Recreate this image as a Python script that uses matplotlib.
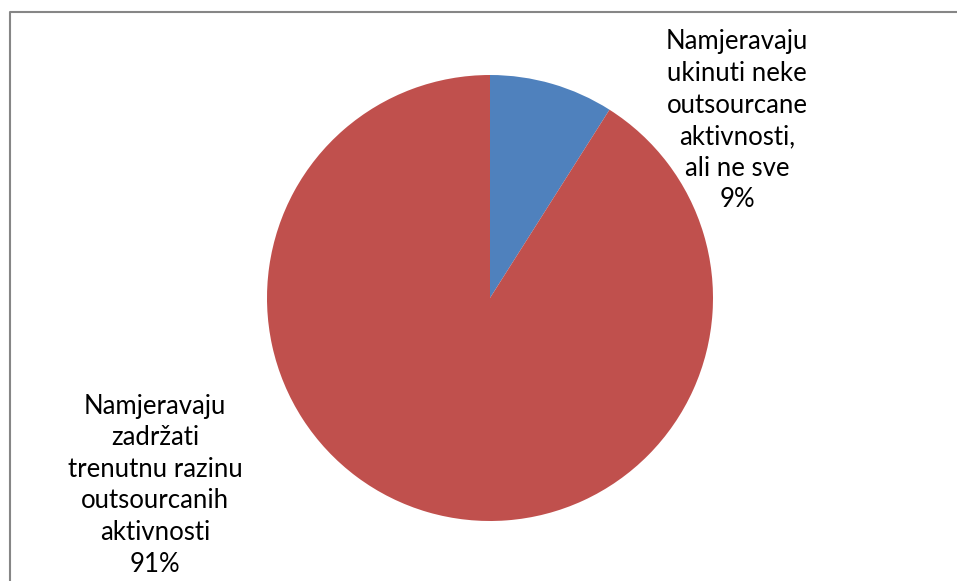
import matplotlib.pyplot as plt
from matplotlib.lines import Line2D

labels = ['Namjeravaju\nukinuti neke\noutsourcane\naktivnosti,\nali ne sve\n9%',
          'Namjeravaju\nzadržati\ntrenutnu razinu\noutsourcanih\naktivnosti\n91%']
values = [9, 91]
colors = ['#4F81BD', '#C0504D']

W, H = 957, 581
cx, cy, r = 490, 298, 223

fig = plt.figure(figsize=(W / 100, H / 100), dpi=100)
ax = fig.add_axes([0, 0, 1, 1])
ax.pie(values, colors=colors, startangle=90, counterclock=False, radius=1,
       wedgeprops={'linewidth': 0})
ax.set_xlim(-cx / r, (W - cx) / r)
ax.set_ylim((cy - H) / r, cy / r)
ax.set_aspect('auto')
ax.axis('off')

# label positions in pie-radius units
label_pos = [(1.108, 0.794), (-1.502, -0.839)]
for (x, y), txt in zip(label_pos, labels):
    ax.text(x, y, txt, ha='center', va='center', multialignment='center',
            fontsize=18.5, family=['Lato', 'DejaVu Sans'], linespacing=1.33,
            color='black')

# chart area border (cut off at the right and bottom)
fig.add_artist(Line2D([9.5 / W, 9.5 / W, 1], [0, 1 - 11.5 / H, 1 - 11.5 / H],
                      transform=fig.transFigure, color='#868686', linewidth=1.5))

fig.savefig('out.png', dpi=100)
